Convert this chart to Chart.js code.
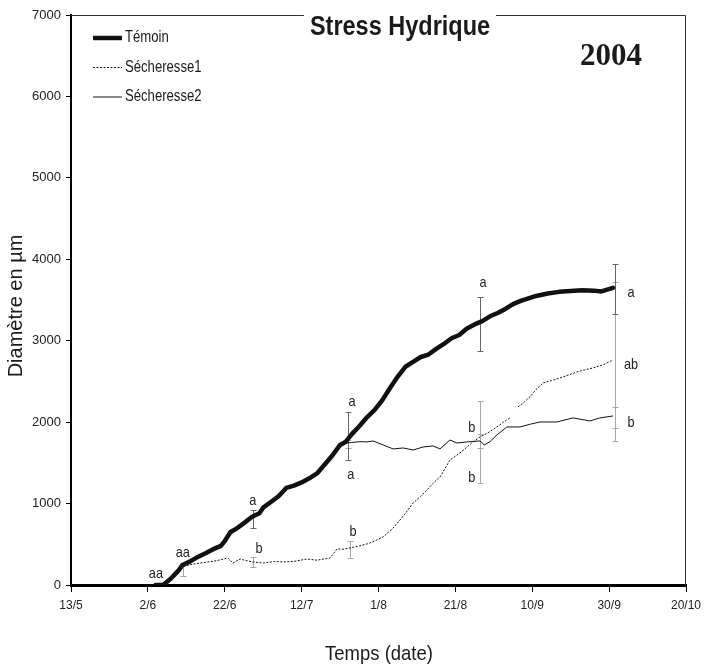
<!DOCTYPE html>
<html lang="fr">
<head>
<meta charset="utf-8">
<title>Stress Hydrique 2004</title>
<script src="https://cdn.jsdelivr.net/npm/chart.js@4.4.1/dist/chart.umd.min.js"></script>
<style>
  html, body { margin: 0; padding: 0; background: #fff; }
  #chart { display: block; }
</style>
</head>
<body>
<canvas id="chart" width="704" height="671"></canvas>
<script>
// days are counted from 13 May 2004
const X_TICK_STEP = 20;
const X_MAX = 160;
const Y_MAX = 7000;
const Y_TICK_STEP = 1000;

const SERIES_NAMES = ['Témoin', 'Sécheresse1', 'Sécheresse2'];

const TEMOIN_DAYS = [22, 24, 26, 28, 29, 31, 33, 35, 37, 39, 40, 41.5, 43, 45, 47, 49, 50, 52, 54, 56, 58, 60, 62, 64, 66, 68, 70, 71.5, 73, 75, 77, 79, 81, 83, 85, 87, 89, 91, 93, 95, 97, 99, 101, 103, 105, 107, 109, 111, 113, 115, 117, 119, 121, 124, 127, 130, 133, 136, 138, 141];
const TEMOIN_VALUES = [0, 0, 80, 180, 246, 290, 345, 390, 440, 480, 540, 651, 690, 760, 835, 880, 950, 1020, 1090, 1192, 1220, 1260, 1310, 1370, 1480, 1590, 1720, 1760, 1850, 1950, 2060, 2150, 2270, 2420, 2560, 2680, 2740, 2800, 2830, 2900, 2960, 3030, 3070, 3150, 3200, 3240, 3300, 3340, 3390, 3450, 3490, 3520, 3550, 3580, 3600, 3610, 3620, 3615, 3605, 3650];

const SECH1_DAYS = [22, 24, 26, 28, 29, 31, 33.6, 36, 38, 40.8, 42.1, 44, 46, 47.3, 50, 53, 55.2, 58, 61.4, 64, 67.4, 69.2, 71, 72.6, 75, 77, 79, 81.2, 83.8, 85.6, 87, 89, 91, 92.6, 94, 96, 98.6, 101.2, 104.6, 106.4, 108.5, 110.8, 112.5, 114.2, 115.2, 116.3, 118, 119.4, 121, 122.8, 125, 127.2, 129.5, 131.6, 133.5, 135.8, 138.4, 141];
const SECH1_VALUES = [0, 0, 80, 180, 221, 250, 270, 285, 300, 332, 270, 319, 295, 283, 270, 290, 283, 290, 319, 305, 332, 442, 440, 455, 480, 504, 540, 590, 700, 799, 880, 1007, 1090, 1167, 1240, 1327, 1536, 1622, 1757, 1818, 1870, 1941, 2000, 2052, null, 2187, 2250, 2310, 2400, 2482, 2510, 2543, 2580, 2617, 2640, 2666, 2703, 2764];

const SECH2_DAYS = [71.3, 73, 75, 77, 78.6, 81.2, 83.8, 86.4, 89, 91.6, 94.2, 96, 98.6, 100.4, 103, 106.4, 107.5, 109, 110.8, 113.4, 116.8, 119.5, 122, 126.4, 130.6, 135, 137.6, 141];
const SECH2_VALUES = [1744, 1750, 1760, 1757, 1769, 1720, 1671, 1683, 1658, 1695, 1708, 1671, 1781, 1744, 1757, 1769, 1720, 1760, 1843, 1941, 1941, 1975, 2002, 2002, 2052, 2015, 2052, 2076];

// standard deviations shown as bars
const TEMOIN_ERR_DAYS = [47.3, 72.1, 106.4, 141.5];
const TEMOIN_ERR_LOW = [700, 1536, 2875, 3329];
const TEMOIN_ERR_HIGH = [921, 2125, 3538, 3943];

const SECH1_ERR_DAYS = [29.1, 47.3, 72.6, 106.4, 141.5];
const SECH1_ERR_LOW = [110, 221, 332, 1253, 1769];
const SECH1_ERR_HIGH = [270, 344, 541, 2260, 3722];

const SECH2_ERR_DAYS = [72.1, 106.4, 141.5];
const SECH2_ERR_LOW = [1683, 1683, 1929];
const SECH2_ERR_HIGH = [1780, 1855, 2187];

// statistical group letters
const LETTER_TEXT = ['aa', 'aa', 'a', 'b', 'a', 'a', 'b', 'a', 'b', 'b', 'a', 'ab', 'b'];
const LETTER_DAYS = [22.1, 29.1, 47.3, 48.9, 73.1, 72.8, 73.4, 107.2, 104.3, 104.3, 145.7, 145.7, 145.7];
const LETTER_VALUES = [135, 393, 1032, 442, 2248, 1351, 651, 3710, 1929, 1314, 3587, 2703, 1990];

const SANS = "'Liberation Sans', Arial, sans-serif";
const SERIF = "'Liberation Serif', 'Times New Roman', serif";

function dayLabel(value) {
  const d = new Date(2004, 4, 13 + value);
  return d.getDate() + '/' + (d.getMonth() + 1);
}

function toPoints(days, values) {
  return days.map((day, i) => ({ x: day, y: values[i] }));
}

// no narrow face installed, so squeeze the regular one horizontally
function narrowText(ctx, text, x, y, squeeze) {
  ctx.save();
  ctx.translate(x, y);
  ctx.scale(squeeze, 1);
  ctx.fillText(text, 0, 0);
  ctx.restore();
}

const errorBars = [
  { days: SECH1_ERR_DAYS, low: SECH1_ERR_LOW, high: SECH1_ERR_HIGH, color: '#a8a8a8' },
  { days: SECH2_ERR_DAYS, low: SECH2_ERR_LOW, high: SECH2_ERR_HIGH, color: '#a8a8a8' },
  { days: TEMOIN_ERR_DAYS, low: TEMOIN_ERR_LOW, high: TEMOIN_ERR_HIGH, color: '#666666' }
];

const errorBarPlugin = {
  id: 'errorBars',
  beforeDatasetsDraw(chart) {
    const { ctx, scales: { x, y } } = chart;
    ctx.save();
    ctx.lineWidth = 1;
    errorBars.forEach(set => {
      ctx.strokeStyle = set.color;
      set.days.forEach((day, i) => {
        const px = Math.round(x.getPixelForValue(day)) + 0.5;
        const top = Math.round(y.getPixelForValue(set.high[i])) + 0.5;
        const bottom = Math.round(y.getPixelForValue(set.low[i])) + 0.5;
        ctx.beginPath();
        ctx.moveTo(px, top);
        ctx.lineTo(px, bottom);
        ctx.moveTo(px - 3, top);
        ctx.lineTo(px + 3, top);
        ctx.moveTo(px - 3, bottom);
        ctx.lineTo(px + 3, bottom);
        ctx.stroke();
      });
    });
    ctx.restore();
  }
};

const decorPlugin = {
  id: 'decor',
  afterDraw(chart) {
    const { ctx, chartArea: area, scales: { x, y } } = chart;
    ctx.save();

    // group letters
    ctx.fillStyle = '#222';
    ctx.font = '15px ' + SANS;
    ctx.textAlign = 'center';
    ctx.textBaseline = 'middle';
    LETTER_TEXT.forEach((text, i) => {
      narrowText(ctx, text, x.getPixelForValue(LETTER_DAYS[i]), y.getPixelForValue(LETTER_VALUES[i]), 0.85);
    });

    // title sits on the top frame line
    const title = 'Stress Hydrique';
    const titleX = 400;
    const titleSqueeze = 0.87;
    ctx.font = 'bold 27px ' + SANS;
    const titleWidth = ctx.measureText(title).width * titleSqueeze;
    ctx.fillStyle = '#1a1a1a';
    ctx.textBaseline = 'alphabetic';
    narrowText(ctx, title, titleX, area.top + 20, titleSqueeze);

    ctx.strokeStyle = '#333';
    ctx.lineWidth = 1;
    ctx.beginPath();
    ctx.moveTo(area.left, area.top + 0.5);
    ctx.lineTo(titleX - titleWidth / 2 - 6, area.top + 0.5);
    ctx.moveTo(titleX + titleWidth / 2 + 6, area.top + 0.5);
    ctx.lineTo(area.right - 0.5, area.top + 0.5);
    ctx.lineTo(area.right - 0.5, area.bottom);
    ctx.stroke();

    ctx.font = 'bold 31px ' + SERIF;
    ctx.textAlign = 'left';
    ctx.fillText('2004', 580, 65);

    // legend
    const styles = [
      { width: 4.5, dash: [] },
      { width: 1, dash: [2, 1.5] },
      { width: 1, dash: [] }
    ];
    ctx.font = '16px ' + SANS;
    ctx.textBaseline = 'middle';
    SERIES_NAMES.forEach((name, i) => {
      const rowY = 38 + i * 29.5;
      ctx.strokeStyle = '#111';
      ctx.lineWidth = styles[i].width;
      ctx.setLineDash(styles[i].dash);
      ctx.beginPath();
      ctx.moveTo(93, rowY);
      ctx.lineTo(122, rowY);
      ctx.stroke();
      ctx.setLineDash([]);
      ctx.fillStyle = '#1a1a1a';
      narrowText(ctx, name, 125, rowY, 0.82);
    });

    // axis titles
    ctx.fillStyle = '#1a1a1a';
    ctx.textAlign = 'center';
    ctx.font = '21px ' + SANS;
    narrowText(ctx, 'Temps (date)', 379, 654, 0.88);

    ctx.translate(16, (area.top + area.bottom) / 2 + 6);
    ctx.rotate(-Math.PI / 2);
    ctx.font = '20px ' + SANS;
    ctx.fillText('Diamètre en µm', 0, 0);

    ctx.restore();
  }
};

new Chart(document.getElementById('chart'), {
  type: 'line',
  data: {
    datasets: [
      {
        label: SERIES_NAMES[0],
        data: toPoints(TEMOIN_DAYS, TEMOIN_VALUES),
        borderColor: '#111',
        borderWidth: 4.5,
        borderJoinStyle: 'round',
        borderCapStyle: 'round',
        pointRadius: 0,
        tension: 0
      },
      {
        label: SERIES_NAMES[1],
        data: toPoints(SECH1_DAYS, SECH1_VALUES),
        borderColor: '#111',
        borderWidth: 1,
        borderDash: [2, 1.5],
        pointRadius: 0,
        spanGaps: false,
        tension: 0
      },
      {
        label: SERIES_NAMES[2],
        data: toPoints(SECH2_DAYS, SECH2_VALUES),
        borderColor: '#111',
        borderWidth: 1,
        pointRadius: 0,
        tension: 0
      }
    ]
  },
  options: {
    responsive: false,
    animation: false,
    layout: {
      padding: { top: 15, right: 0, bottom: 0, left: 0 }
    },
    plugins: {
      legend: { display: false },
      title: { display: false },
      tooltip: { enabled: false }
    },
    scales: {
      x: {
        type: 'linear',
        min: 0,
        max: X_MAX,
        afterFit: scale => {
          scale.height = 86;
          scale.paddingLeft = 0;
          scale.paddingRight = 18;
        },
        border: { color: '#000', width: 3 },
        grid: { drawOnChartArea: false, drawTicks: true, tickLength: 7, color: '#000' },
        ticks: {
          stepSize: X_TICK_STEP,
          padding: 6,
          maxRotation: 0,
          color: '#222',
          font: { family: SANS, size: 12 },
          callback: value => dayLabel(value)
        }
      },
      y: {
        min: 0,
        max: Y_MAX,
        afterFit: scale => { scale.width = 71; },
        border: { color: '#000', width: 2 },
        grid: { drawOnChartArea: false, drawTicks: true, tickLength: 5, color: '#000' },
        ticks: {
          stepSize: Y_TICK_STEP,
          padding: 5,
          color: '#222',
          font: { family: SANS, size: 13 },
          callback: value => String(value)
        }
      }
    }
  },
  plugins: [errorBarPlugin, decorPlugin]
});
</script>
</body>
</html>
